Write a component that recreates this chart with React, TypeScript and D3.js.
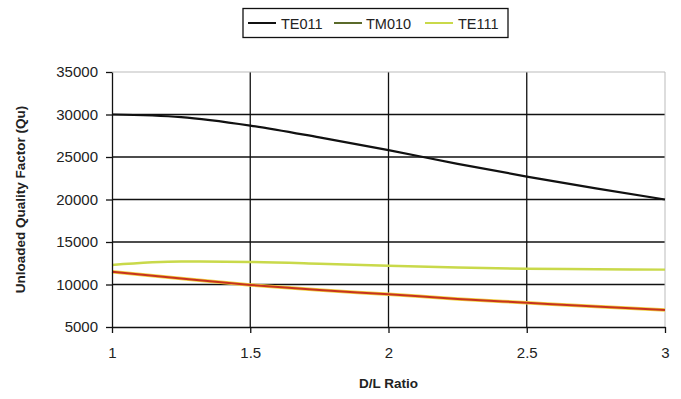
import React, { useEffect, useRef } from 'react';
import * as d3 from 'd3';

const ratios = [1, 1.25, 1.5, 1.75, 2, 2.25, 2.5, 2.75, 3];
const te011 = [30000, 29700, 28700, 27300, 25800, 24200, 22700, 21300, 20000];
const tm010 = [11500, 10700, 9950, 9350, 8850, 8300, 7850, 7400, 7000];
const te111 = [12300, 12700, 12650, 12450, 12200, 12000, 11850, 11800, 11750];
const xTicks = [1, 1.5, 2, 2.5, 3];
const yTicks = [5000, 10000, 15000, 20000, 25000, 30000, 35000];

const App = () => {
  const ref = useRef<SVGSVGElement>(null);

  useEffect(() => {
    const svg = d3.select(ref.current);
    svg.selectAll('*').remove();
    const left = 112;
    const right = 665;
    const top = 72;
    const bottom = 327;
    const font = 'Liberation Sans, Arial, sans-serif';

    const x = d3.scaleLinear().domain([1, 3]).range([left, right]);
    const y = d3.scaleLinear().domain([5000, 35000]).range([bottom, top]);

    svg.append('rect').attr('width', 681).attr('height', 399).attr('fill', '#fff');

    // grid
    const g = svg.append('g');
    g.selectAll('.hg')
      .data(yTicks.slice(1, -1))
      .enter()
      .append('line')
      .attr('x1', left)
      .attr('x2', right)
      .attr('y1', (d) => y(d))
      .attr('y2', (d) => y(d))
      .attr('stroke', '#111')
      .attr('stroke-width', 1.3);
    g.selectAll('.vg')
      .data(xTicks.slice(1, -1))
      .enter()
      .append('line')
      .attr('x1', (d) => x(d))
      .attr('x2', (d) => x(d))
      .attr('y1', top)
      .attr('y2', bottom)
      .attr('stroke', '#111')
      .attr('stroke-width', 1.3);
    // borders
    g.append('line').attr('x1', left).attr('x2', right).attr('y1', top).attr('y2', top).attr('stroke', '#bbb');
    g.append('line').attr('x1', right).attr('x2', right).attr('y1', top).attr('y2', bottom).attr('stroke', '#bbb');

    // lines
    const line = (vals: number[]) =>
      d3
        .line<number>()
        .x((_, i) => x(ratios[i]))
        .y((d) => y(d))
        .curve(d3.curveMonotoneX)(vals);

    g.append('path').attr('d', line(te111)).attr('fill', 'none').attr('stroke', '#c9d94a').attr('stroke-width', 2.5);
    g.append('path').attr('d', line(tm010)).attr('fill', 'none').attr('stroke', '#f0d040').attr('stroke-width', 3.5);
    g.append('path').attr('d', line(tm010)).attr('fill', 'none').attr('stroke', '#c8321e').attr('stroke-width', 2);
    g.append('path').attr('d', line(te011)).attr('fill', 'none').attr('stroke', '#111').attr('stroke-width', 2.2);

    // axes
    const ya = svg
      .append('g')
      .attr('transform', `translate(${left},0)`)
      .call(d3.axisLeft(y).tickValues(yTicks).tickSize(6).tickPadding(8).tickFormat(d3.format('d')).tickSizeOuter(0));
    const xa = svg
      .append('g')
      .attr('transform', `translate(0,${bottom})`)
      .call(d3.axisBottom(x).tickValues(xTicks).tickSize(6).tickPadding(14).tickFormat(d3.format('')).tickSizeOuter(0));
    [ya, xa].forEach((a) => {
      a.select('.domain').attr('stroke', '#111').attr('stroke-width', 1.3);
      a.selectAll('line').attr('stroke', '#111').attr('stroke-width', 1.3);
      a.selectAll('text').attr('font-family', font).attr('font-size', 15).attr('fill', '#222');
    });

    svg
      .append('text')
      .attr('x', (left + right) / 2)
      .attr('y', 388)
      .attr('text-anchor', 'middle')
      .attr('font-family', font)
      .attr('font-size', 13.5)
      .attr('font-weight', 'bold')
      .attr('fill', '#222')
      .text('D/L Ratio');
    svg
      .append('text')
      .attr('transform', `translate(25,${(top + bottom) / 2}) rotate(-90)`)
      .attr('text-anchor', 'middle')
      .attr('font-family', font)
      .attr('font-size', 13.5)
      .attr('font-weight', 'bold')
      .attr('fill', '#222')
      .text('Unloaded Quality Factor (Qu)');

    // legend
    const lg = svg.append('g');
    lg.append('rect').attr('x', 243).attr('y', 8.5).attr('width', 265).attr('height', 29).attr('fill', '#fff').attr('stroke', '#111').attr('stroke-width', 1.3);
    const items = [
      { name: 'TE011', color: '#111', lx: 248, tx: 281 },
      { name: 'TM010', color: '#5a6a2a', lx: 334, tx: 366 },
      { name: 'TE111', color: '#c9d94a', lx: 425, tx: 458 },
    ];
    items.forEach((it) => {
      lg.append('line').attr('x1', it.lx).attr('x2', it.lx + 28).attr('y1', 23).attr('y2', 23).attr('stroke', it.color).attr('stroke-width', 2);
      lg.append('text')
        .attr('x', it.tx)
        .attr('y', 28.5)
        .attr('font-family', font)
        .attr('font-size', 14.5)
        .attr('fill', '#222')
        .text(it.name);
    });
  }, []);

  return <svg ref={ref} width={681} height={399} style={{ position: 'absolute', left: 0, top: 0 }} />;
};

export default App;
